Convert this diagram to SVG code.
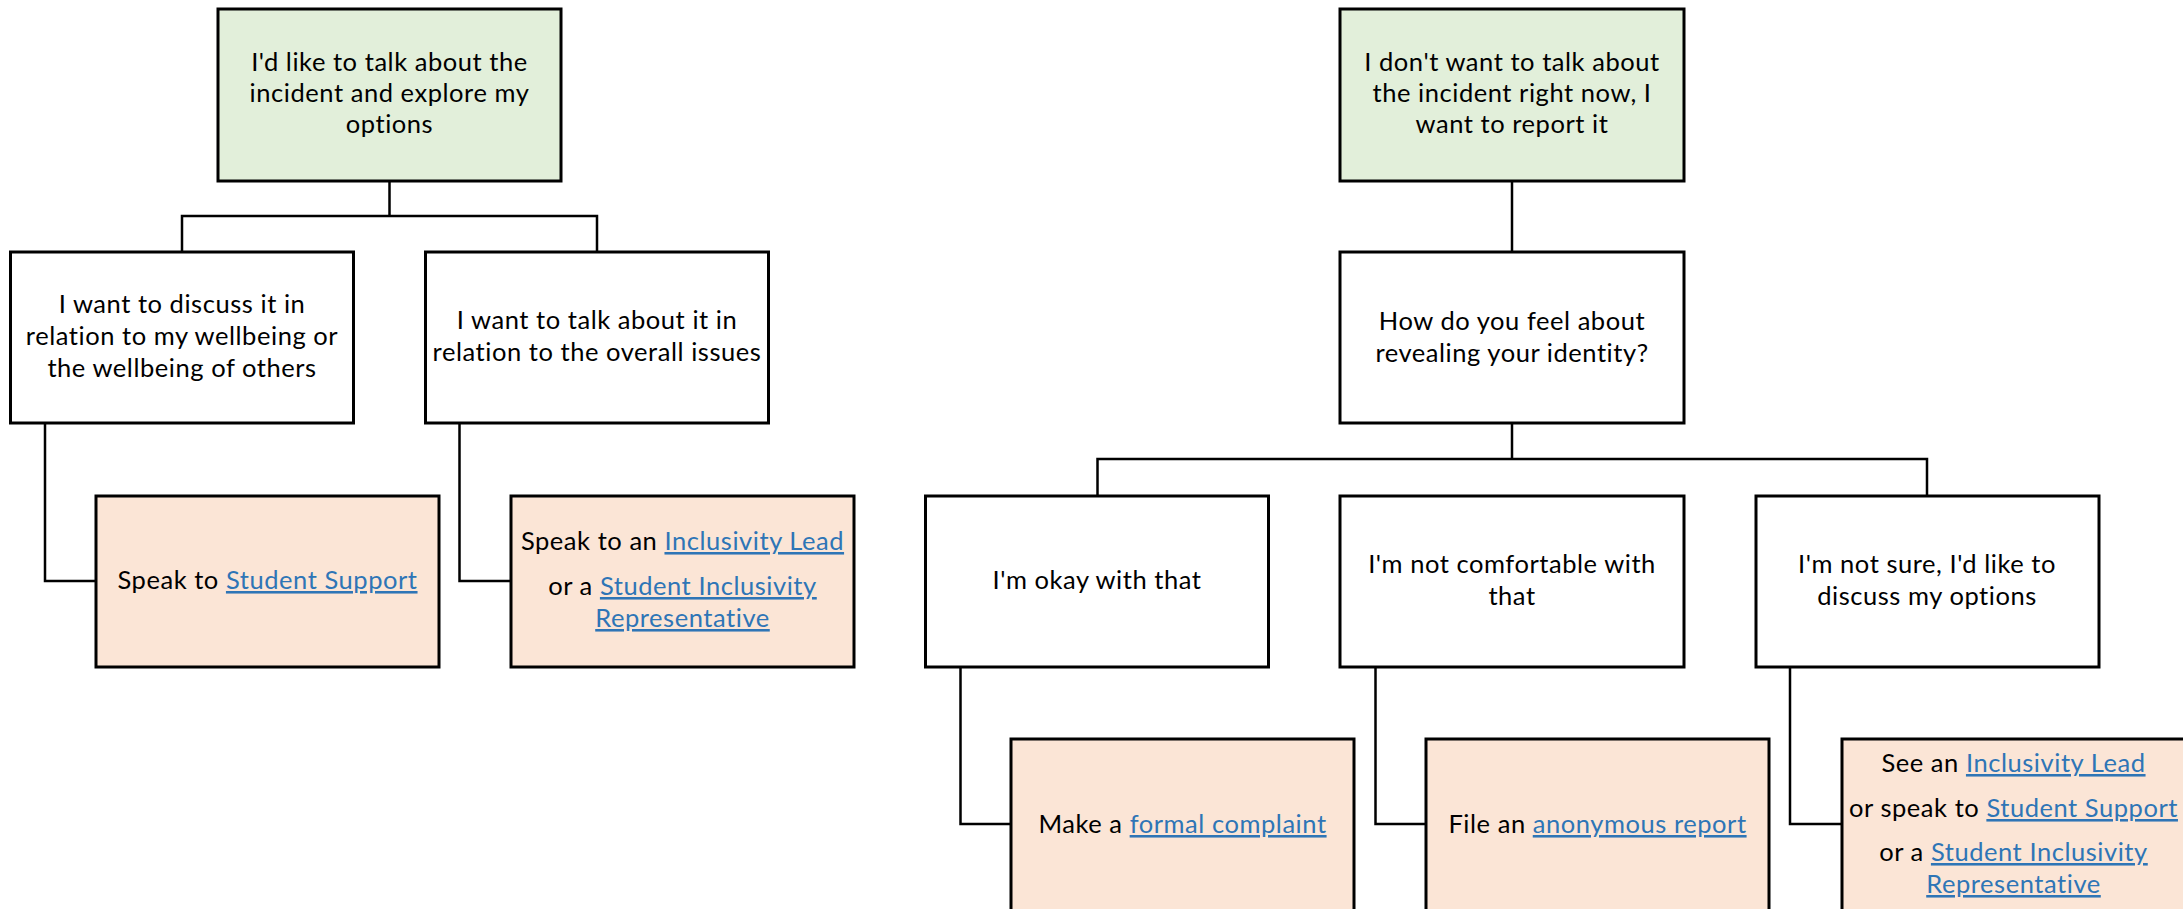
<svg xmlns="http://www.w3.org/2000/svg" width="2183" height="909" viewBox="0 0 2183 909">
<style>
.box{stroke:#000;stroke-width:3}
.q{fill:#E2EFDA}
.w{fill:#FFFFFF}
.o{fill:#FBE5D6}
.con{fill:none;stroke:#000;stroke-width:2.5}
text{font-family:Lato,"Liberation Sans",sans-serif;font-size:25.5px;letter-spacing:0.55px;fill:#000;text-anchor:middle}
.lk{fill:#2E75B6;text-decoration:underline}
</style>
<rect width="2183" height="909" fill="#FFFFFF"/>
<g id="connectors">
<path class="con" d="M389.5 181V216M182 252V216H597V252"/>
<path class="con" d="M1512 181V252"/>
<path class="con" d="M1512 423V459M1097.5 496V459H1927V496"/>
<path class="con" d="M45 423V581H96"/>
<path class="con" d="M459.5 423V581H511"/>
<path class="con" d="M960.5 667V824H1011"/>
<path class="con" d="M1375.5 667V824H1426"/>
<path class="con" d="M1790 667V824H1842"/>
</g>
<g id="n-explore">
<rect class="box q" x="218" y="9" width="343" height="172"/>
<text x="389.5" y="71">I'd like to talk about the</text>
<text x="389.5" y="102">incident and explore my</text>
<text x="389.5" y="133">options</text>
</g>
<g id="n-report">
<rect class="box q" x="1340" y="9" width="344" height="172"/>
<text x="1512" y="71">I don't want to talk about</text>
<text x="1512" y="102">the incident right now, I</text>
<text x="1512" y="133">want to report it</text>
</g>
<g id="n-wellbeing">
<rect class="box w" x="10.5" y="252" width="343" height="171"/>
<text x="182" y="313">I want to discuss it in</text>
<text x="182" y="345">relation to my wellbeing or</text>
<text x="182" y="377">the wellbeing of others</text>
</g>
<g id="n-issues">
<rect class="box w" x="425.5" y="252" width="343" height="171"/>
<text x="597" y="329">I want to talk about it in</text>
<text x="597" y="361">relation to the overall issues</text>
</g>
<g id="n-identity">
<rect class="box w" x="1340" y="252" width="344" height="171"/>
<text x="1512" y="330">How do you feel about</text>
<text x="1512" y="362">revealing your identity?</text>
</g>
<g id="n-support">
<rect class="box o" x="96" y="496" width="343" height="171"/>
<text x="267.5" y="589">Speak to <tspan class="lk">Student Support</tspan></text>
</g>
<g id="n-lead">
<rect class="box o" x="511" y="496" width="343" height="171"/>
<text x="682.5" y="550">Speak to an <tspan class="lk">Inclusivity Lead</tspan></text>
<text x="682.5" y="595">or a <tspan class="lk">Student Inclusivity</tspan></text>
<text x="682.5" y="627"><tspan class="lk">Representative</tspan></text>
</g>
<g id="n-okay">
<rect class="box w" x="925.5" y="496" width="343" height="171"/>
<text x="1097" y="589">I'm okay with that</text>
</g>
<g id="n-notcomf">
<rect class="box w" x="1340" y="496" width="344" height="171"/>
<text x="1512" y="573">I'm not comfortable with</text>
<text x="1512" y="605">that</text>
</g>
<g id="n-notsure">
<rect class="box w" x="1756" y="496" width="343" height="171"/>
<text x="1927" y="573">I'm not sure, I'd like to</text>
<text x="1927" y="605">discuss my options</text>
</g>
<g id="n-formal">
<rect class="box o" x="1011" y="739" width="343" height="175"/>
<text x="1182.5" y="833">Make a <tspan class="lk">formal complaint</tspan></text>
</g>
<g id="n-anon">
<rect class="box o" x="1426" y="739" width="343" height="175"/>
<text x="1597.5" y="833">File an <tspan class="lk">anonymous report</tspan></text>
</g>
<g id="n-see">
<rect class="box o" x="1842" y="739" width="343" height="175"/>
<text x="2013.5" y="772">See an <tspan class="lk">Inclusivity Lead</tspan></text>
<text x="2013.5" y="817">or speak to <tspan class="lk">Student Support</tspan></text>
<text x="2013.5" y="861">or a <tspan class="lk">Student Inclusivity</tspan></text>
<text x="2013.5" y="893"><tspan class="lk">Representative</tspan></text>
</g>
</svg>
